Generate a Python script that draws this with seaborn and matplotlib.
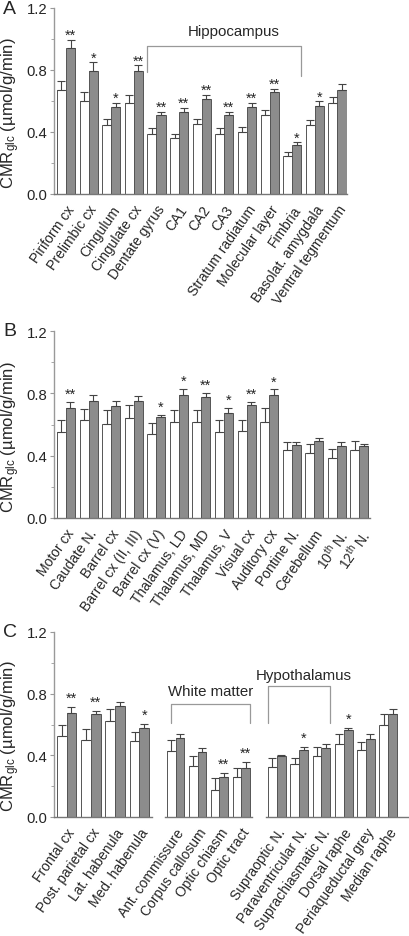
import matplotlib
matplotlib.use('Agg')
import matplotlib.pyplot as plt
import matplotlib.transforms as mtransforms
import numpy as np
import pandas as pd
import seaborn as sns

# ---- panel A ----
regions_a = ['Piriform cx', 'Prelimbic cx', 'Cingulum', 'Cingulate cx', 'Dentate gyrus',
             'CA1', 'CA2', 'CA3', 'Stratum radiatum', 'Molecular layer', 'Fimbria',
             'Basolat. amygdala', 'Ventral tegmentum']
ctrl_a = [0.67, 0.60, 0.446, 0.59, 0.39, 0.364, 0.45, 0.39, 0.40, 0.51, 0.243, 0.444, 0.586]
ctrl_a_sem = [0.06, 0.06, 0.04, 0.05, 0.035, 0.026, 0.035, 0.035, 0.03, 0.03, 0.027, 0.034, 0.04]
treat_a = [0.94, 0.795, 0.56, 0.795, 0.51, 0.53, 0.61, 0.51, 0.56, 0.657, 0.317, 0.57, 0.67]
treat_a_sem = [0.055, 0.055, 0.03, 0.035, 0.02, 0.026, 0.03, 0.02, 0.03, 0.023, 0.017, 0.03, 0.04]
stars_a = ['**', '*', '*', '**', '**', '**', '**', '**', '**', '**', '*', '*', '']

# ---- panel B ----
regions_b = ['Motor cx', 'Caudate N.', 'Barrel cx', 'Barrel cx (II, III)', 'Barrel cx (V)',
             'Thalamus, LD', 'Thalamus, MD', 'Thalamus, V', 'Visual cx', 'Auditory cx',
             'Pontine N.', 'Cerebellum', r'10$^{\rm th}$ N.', r'12$^{\rm th}$ N.']
ctrl_b = [0.555, 0.626, 0.606, 0.64, 0.54, 0.613, 0.613, 0.555, 0.56, 0.613, 0.436, 0.42, 0.384, 0.436]
ctrl_b_sem = [0.075, 0.074, 0.09, 0.088, 0.07, 0.083, 0.083, 0.071, 0.07, 0.092, 0.049, 0.058, 0.058, 0.059]
treat_b = [0.709, 0.754, 0.72, 0.754, 0.65, 0.79, 0.777, 0.677, 0.724, 0.79, 0.47, 0.495, 0.461, 0.46]
treat_b_sem = [0.038, 0.036, 0.03, 0.026, 0.014, 0.04, 0.028, 0.032, 0.023, 0.036, 0.02, 0.017, 0.024, 0.018]
stars_b = ['**', '', '', '', '*', '*', '**', '*', '**', '*', '', '', '', '']

# ---- panel C (three blocks) ----
regions_c1 = ['Frontal cx', 'Post. parietal cx', 'Lat. habenula', 'Med. habenula']
ctrl_c1 = [0.527, 0.50, 0.623, 0.492]
ctrl_c1_sem = [0.067, 0.073, 0.08, 0.061]
treat_c1 = [0.675, 0.668, 0.72, 0.579]
treat_c1_sem = [0.039, 0.02, 0.026, 0.026]
stars_c1 = ['**', '**', '', '*']

regions_c2 = ['Ant. commissure', 'Corpus callosum', 'Optic chiasm', 'Optic tract']
ctrl_c2 = [0.427, 0.33, 0.174, 0.26]
ctrl_c2_sem = [0.07, 0.065, 0.076, 0.06]
treat_c2 = [0.514, 0.42, 0.26, 0.32]
treat_c2_sem = [0.022, 0.025, 0.026, 0.036]
stars_c2 = ['', '', '**', '**']

regions_c3 = ['Supraoptic N.', 'Paraventricular N.', 'Suprachiasmatic N.', 'Dorsal raphe',
              'Periaqueductal grey', 'Median raphe']
ctrl_c3 = [0.325, 0.345, 0.397, 0.475, 0.436, 0.597]
ctrl_c3_sem = [0.059, 0.039, 0.058, 0.063, 0.05, 0.071]
treat_c3 = [0.397, 0.436, 0.447, 0.566, 0.507, 0.666]
treat_c3_sem = [0.008, 0.019, 0.028, 0.014, 0.031, 0.034]
stars_c3 = ['', '*', '', '*', '', '']

sns.set_style('white')
plt.rcParams['font.family'] = ['Liberation Sans', 'DejaVu Sans']
plt.rcParams['mathtext.fontset'] = 'custom'
plt.rcParams['mathtext.rm'] = 'Liberation Sans'
plt.rcParams['mathtext.it'] = 'Liberation Sans:italic'

GRAY = '#8c8c8c'
EDGE = '#555555'
AXC = '#777777'
YLABEL = r'CMR$_{\rm glc}$ (µmol/g/min)'

W, H = 410, 937
fig = plt.figure(figsize=(W / 100, H / 100), dpi=100)


def px_axes(x0, x1, ytop, ybot):
    return fig.add_axes([x0 / W, 1 - ybot / H, (x1 - x0) / W, (ybot - ytop) / H])


def draw_bars(ax, regions, ctrl, ctrl_sem, treat, treat_sem, stars, star_dy):
    df = pd.DataFrame({
        'region': regions * 2,
        'group': ['control'] * len(regions) + ['treated'] * len(regions),
        'value': list(ctrl) + list(treat),
    })
    sns.barplot(data=df, x='region', y='value', hue='group', ax=ax,
                palette={'control': 'white', 'treated': GRAY},
                edgecolor=EDGE, linewidth=0.7, errorbar=None, legend=False,
                width=0.8, gap=0)
    for cont, sem in zip(ax.containers, [ctrl_sem, treat_sem]):
        xs = [p.get_x() + p.get_width() / 2 for p in cont.patches]
        hs = [p.get_height() for p in cont.patches]
        ax.errorbar(xs, hs, yerr=[np.zeros(len(sem)), sem], fmt='none',
                    ecolor='#444444', elinewidth=0.8, capsize=2.8, capthick=0.8)
    tcont = ax.containers[1]
    for p, s, e, st in zip(tcont.patches, treat, treat_sem, stars):
        if st:
            ax.annotate(st, (p.get_x() + p.get_width() / 2, s + e),
                        xytext=(0, star_dy), textcoords='offset points',
                        ha='center', va='baseline', fontsize=10.5)
    ax.set_ylim(0, 1.2)
    ax.set_xlabel('')
    ax.set_ylabel('')
    sns.despine(ax=ax)
    ax.spines['bottom'].set_color(AXC)
    ax.spines['bottom'].set_linewidth(1.0)
    ax.tick_params(axis='x', length=0, pad=6, labelsize=10)
    plt.setp(ax.get_xticklabels(), rotation=55, ha='right', va='top',
             rotation_mode='anchor')


def style_y(ax, letter):
    ax.set_yticks([0.0, 0.4, 0.8, 1.2])
    ax.set_yticklabels(['0.0', '0.4', '0.8', '1.2'])
    ax.set_yticks([0.2, 0.6, 1.0], minor=True)
    ax.spines['left'].set_color('#999999')
    ax.spines['left'].set_linewidth(1.0)
    ax.tick_params(axis='y', which='major', length=3, color='#999999',
                   labelsize=10.7, pad=2, left=True)
    ax.tick_params(axis='y', which='minor', length=2, color='#999999', left=True)
    ax.set_ylabel(YLABEL, fontsize=12)
    tr = mtransforms.blended_transform_factory(fig.transFigure, ax.transAxes)
    ax.yaxis.set_label_coords(22 / W, 0.44, transform=tr)
    ax.text(3 / W, 1.0, letter, transform=tr, fontsize=14, ha='left', va='center')


def bracket(ax, i0, i1, ytop, yl, yr, label, ylab, dx=0.0, xl=-0.4):
    xa, xb = i0 + xl, i1 + 0.4
    ax.plot([xa, xa, xb, xb], [yl, ytop, ytop, yr], color='#999999', lw=0.9,
            clip_on=False)
    ax.text((xa + xb) / 2 + dx, ylab, label, ha='center', va='center', fontsize=10.8)


# Panel A
ax_a = px_axes(54, 347, 9, 195)
draw_bars(ax_a, regions_a, ctrl_a, ctrl_a_sem, treat_a, treat_a_sem, stars_a, 0.5)
ax_a.set_xlim(-0.53, 12.42)
style_y(ax_a, 'A')
bracket(ax_a, 4, 10, 0.955, 0.79, 0.76, 'Hippocampus', 1.05, dx=0.4)

# Panel B
ax_b = px_axes(54, 370, 332, 519)
draw_bars(ax_b, regions_b, ctrl_b, ctrl_b_sem, treat_b, treat_b_sem, stars_b, 2.5)
ax_b.set_xlim(-0.53, 13.47)
style_y(ax_b, 'B')

# Panel C
ax_c1 = px_axes(54, 152, 633, 818)
draw_bars(ax_c1, regions_c1, ctrl_c1, ctrl_c1_sem, treat_c1, treat_c1_sem, stars_c1, 3.5)
ax_c1.set_xlim(-0.52, 3.52)
style_y(ax_c1, 'C')

ax_c2 = px_axes(165, 252, 633, 818)
draw_bars(ax_c2, regions_c2, ctrl_c2, ctrl_c2_sem, treat_c2, treat_c2_sem, stars_c2, 3.5)
ax_c2.set_xlim(-0.49, 3.49)
ax_c2.spines['left'].set_visible(False)
ax_c2.set_yticks([])
bracket(ax_c2, 0, 3, 0.73, 0.61, 0.61, 'White matter', 0.82, xl=-0.2)

ax_c3 = px_axes(266, 410, 633, 818)
draw_bars(ax_c3, regions_c3, ctrl_c3, ctrl_c3_sem, treat_c3, treat_c3_sem, stars_c3, 3.5)
ax_c3.set_xlim(-0.49, 5.98)
ax_c3.spines['left'].set_visible(False)
ax_c3.set_yticks([])
bracket(ax_c3, 0, 2, 0.85, 0.61, 0.61, 'Hypothalamus', 0.92, dx=0.2)

fig.savefig('out.png', dpi=100)
